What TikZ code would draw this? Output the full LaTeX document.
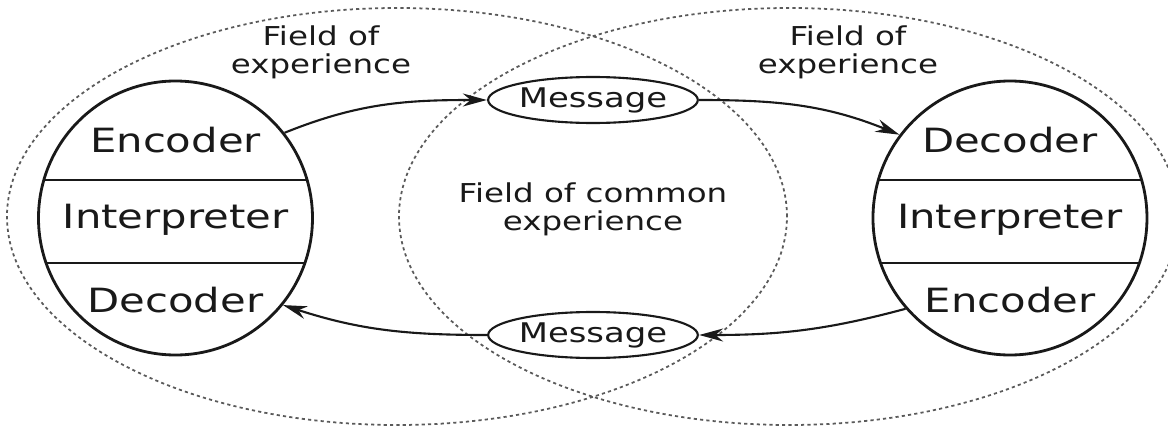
\documentclass[tikz,border=0pt]{standalone}
\usepackage{fontspec}
\setmainfont{DejaVu Sans}
\usepackage{tikz}
\usetikzlibrary{arrows.meta,shapes,positioning}
\usepackage{xcolor}
\definecolor{cmink}{RGB}{25,25,25}
\definecolor{cmgray}{RGB}{90,90,90}
\tikzstyle{agent} = [circle, minimum size=2.74cm, inner sep=0pt, draw=cmink, fill=white, thick]
\tikzstyle{layertext} = [font=\fontsize{9.5}{11}\selectfont, text=cmink, xscale=1.25]
\tikzstyle{fieldtext} = [font=\fontsize{7.4}{8}\selectfont, text=cmink, align=center, xscale=1.25]
\tikzstyle{msg} = [ellipse, minimum width=1.62cm, minimum height=0.46cm, inner sep=0pt, draw=cmink, fill=white, semithick, font=\fontsize{7.7}{9}\selectfont, text=cmink, xscale=1.25]
\tikzstyle{field} = [draw=cmgray, dash pattern=on 0.9pt off 0.9pt, line width=0.5pt]
\tikzstyle{arrow} = [semithick, ->, >={Stealth[length=2.4mm,width=1.3mm]}, color=cmink]

\begin{document}
\begin{tikzpicture}
\useasboundingbox (-5.93,-2.12) rectangle (5.75,2.18);

% Fields of experience
\draw[field] (-1.96,0.015) ellipse (3.9 and 2.085);
\draw[field] (1.96,0.015) ellipse (3.9 and 2.085);
\node[fieldtext] (fieldl) at (-2.72,1.66) {Field of\\experience};
\node[fieldtext] (fieldr) at (2.55,1.66) {Field of\\experience};
\node[fieldtext] (common) at (0,0.09) {Field of common\\experience};

% Sender and receiver
\node[agent] (sender) at (-4.175,0) {};
\node[agent] (receiver) at (4.17,0) {};
\foreach \c in {sender,receiver} {
  \begin{scope}
    \clip (\c.center) circle (1.37);
    \draw[thick, cmink] ([yshift=0.38cm]\c.center) +(-1.5,0) -- +(1.5,0);
    \draw[thick, cmink] ([yshift=-0.45cm]\c.center) +(-1.5,0) -- +(1.5,0);
  \end{scope}
}
\node[layertext] (senc) at ([yshift=0.78cm]sender.center) {Encoder};
\node[layertext] (sint) at ([yshift=-0.02cm]sender.center) {Interpreter};
\node[layertext] (sdec) at ([yshift=-0.82cm]sender.center) {Decoder};
\node[layertext] (rdec) at ([yshift=0.78cm]receiver.center) {Decoder};
\node[layertext] (rint) at ([yshift=-0.02cm]receiver.center) {Interpreter};
\node[layertext] (renc) at ([yshift=-0.82cm]receiver.center) {Encoder};

% Messages
\node[msg] (msgtop) at (0,1.18) {Message};
\node[msg] (msgbot) at (0,-1.17) {Message};

% Arrows
\draw[arrow] (sender.38) to[out=22, in=180] (msgtop.west);
\draw[arrow] (msgtop.east) to[out=0, in=158] (receiver.143);
\draw[arrow] (receiver.221) to[out=195, in=0] (msgbot.east);
\draw[arrow] (msgbot.west) to[out=180, in=-18] (sender.321);
\end{tikzpicture}
\end{document}
